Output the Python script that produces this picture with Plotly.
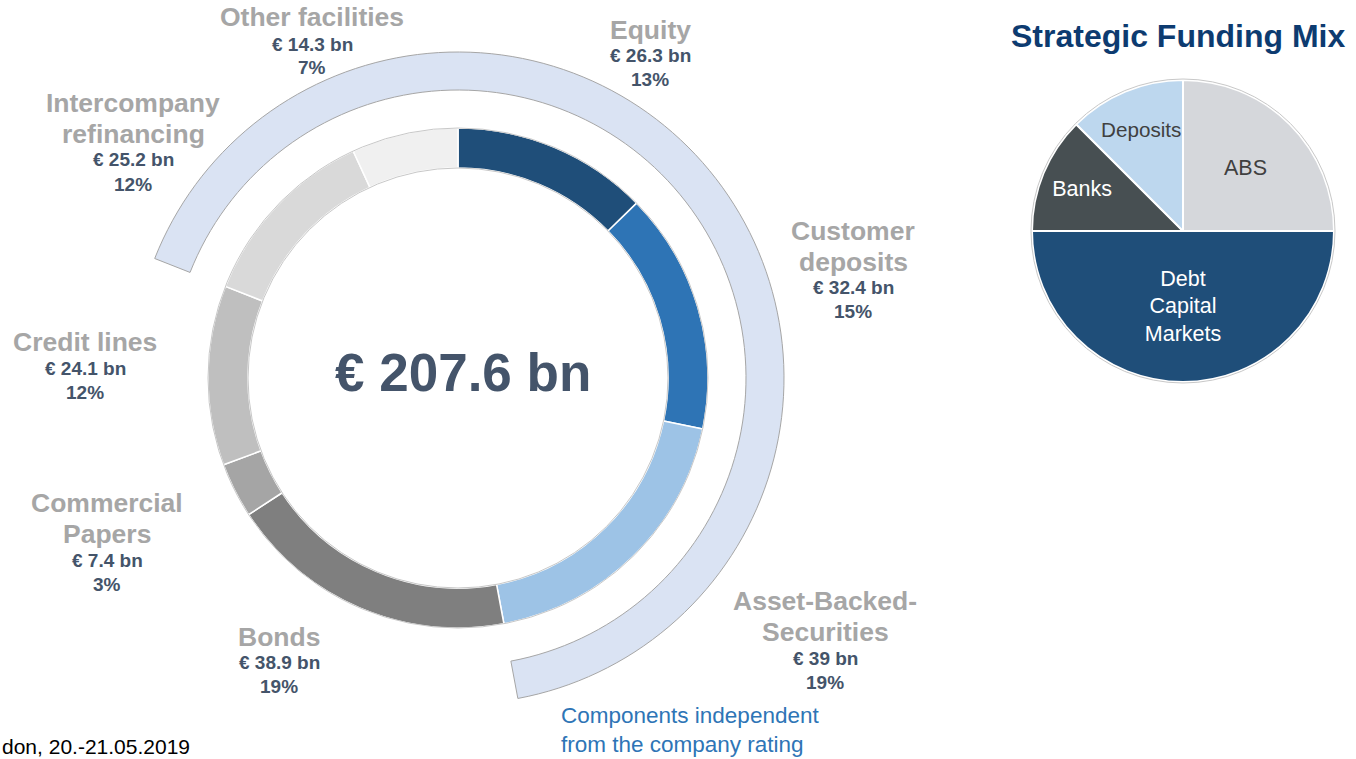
import plotly.graph_objects as go

# ---------------- data ----------------
categories = ["Equity", "Customer deposits", "Asset-Backed-Securities", "Bonds",
              "Commercial Papers", "Credit lines", "Intercompany refinancing", "Other facilities"]
name_lines = ["Equity", "Customer<br>deposits", "Asset-Backed-<br>Securities", "Bonds",
              "Commercial<br>Papers", "Credit lines", "Intercompany<br>refinancing", "Other facilities"]
values_bn = [26.3, 32.4, 39.0, 38.9, 7.4, 24.1, 25.2, 14.3]
pct_labels = ["13%", "15%", "19%", "19%", "3%", "12%", "12%", "7%"]
rating_independent = [True, True, True, False, False, False, True, True]
independent_label = "Components independent<br>from the company rating"

mix_title = "Strategic Funding Mix"
mix_labels = ["ABS", "Debt<br>Capital<br>Markets", "Banks", "Deposits"]
mix_shares = [25, 50, 12.5, 12.5]

footer_text = "don, 20.-21.05.2019"

# ---------------- style ----------------
W, H = 1356, 759
FONT = "Arial, 'Liberation Sans', sans-serif"
ring_colors = ["#1f4e79", "#2e74b5", "#9dc3e6", "#7f7f7f", "#a5a5a5", "#bfbfbf", "#d9d9d9", "#f0f0f0"]
mix_colors = ["#d5d7db", "#1f4e79", "#474f52", "#bdd7ee"]
mix_text_colors = ["#404040", "#ffffff", "#ffffff", "#404040"]
NAME_COLOR = "#a6a6a6"
VAL_COLOR = "#44546a"

# label layout (pixel positions): x center, first name-line y, value y, pct y
label_pos = {
    "Equity": (650, 30, 56, 79),
    "Customer deposits": (853, 231, 287, 311),
    "Asset-Backed-Securities": (825, 601, 658, 682),
    "Bonds": (279, 637, 662, 686),
    "Commercial Papers": (107, 503, 560, 584),
    "Credit lines": (85, 342, 368, 392),
    "Intercompany refinancing": (133, 103, 160, 184),
    "Other facilities": (312, 17, 44, 67),
}


def px(x):
    return x / W


def py(y):
    return 1 - y / H


def dom(cx, cy, r):
    return dict(x=[px(cx - r), px(cx + r)], y=[py(cy + r), py(cy - r)])


total = sum(values_bn)
ind_sum = sum(v for v, f in zip(values_bn, rating_independent) if f)
dep_sum = total - ind_sum
# the independent block wraps around 12 o'clock: start it at the first of the trailing independent items
trail = 0.0
for v, f in zip(reversed(values_bn), reversed(rating_independent)):
    if not f:
        break
    trail += v
arc_rotation = -360.0 * trail / total

CX, CY = 458, 378
fig = go.Figure()

# outer bracket arc
fig.add_trace(go.Pie(
    values=[ind_sum, dep_sum], labels=["independent", "dependent"], sort=False,
    direction="clockwise", rotation=arc_rotation, hole=288 / 326,
    marker=dict(colors=["#dae3f3", "rgba(0,0,0,0)"],
                line=dict(color=["#a6a6a6", "rgba(0,0,0,0)"], width=[1, 0])),
    textinfo="none", hoverinfo="skip", domain=dom(CX, CY, 326), showlegend=False))

# main ring
fig.add_trace(go.Pie(
    values=values_bn, labels=categories, sort=False, direction="clockwise", rotation=0,
    hole=210 / 250,
    marker=dict(colors=ring_colors, line=dict(color="#ffffff", width=1.5)),
    textinfo="none", hovertemplate="%{label}: € %{value} bn<extra></extra>",
    domain=dom(CX, CY, 250), showlegend=False))

# thin grey outline of ring
fig.add_trace(go.Pie(
    values=[total], labels=["total"], sort=False, hole=210 / 250,
    marker=dict(colors=["rgba(0,0,0,0)"], line=dict(color="#c8c8c8", width=1)),
    textinfo="none", hoverinfo="skip", domain=dom(CX, CY, 250), showlegend=False))

# strategic funding mix pie
MX, MY, MR = 1183, 231, 151
fig.add_trace(go.Pie(
    values=mix_shares, labels=mix_labels, sort=False, direction="clockwise", rotation=0,
    marker=dict(colors=mix_colors, line=dict(color="#ffffff", width=2)),
    textinfo="label", textposition="inside", insidetextorientation="horizontal",
    insidetextfont=dict(family=FONT, size=21.5, color=mix_text_colors),
    hoverinfo="label+percent", domain=dom(MX, MY, MR), showlegend=False))
fig.add_trace(go.Pie(
    values=[sum(mix_shares)], labels=["all"], sort=False,
    marker=dict(colors=["rgba(0,0,0,0)"], line=dict(color="#c8c8c8", width=1)),
    textinfo="none", hoverinfo="skip", domain=dom(MX, MY, MR + 1), showlegend=False))

ann = []
for cat, nm, v, pc in zip(categories, name_lines, values_bn, pct_labels):
    x, ny, vy, pcy = label_pos[cat]
    for i, line in enumerate(nm.split("<br>")):
        ann.append(dict(x=px(x), y=py(ny + 31 * i), text=line, showarrow=False,
                        xanchor="center", yanchor="middle",
                        font=dict(family=FONT, size=26.5, color=NAME_COLOR, weight="bold")))
    ann.append(dict(x=px(x), y=py(vy), text=f"€ {v:g} bn", showarrow=False,
                    xanchor="center", yanchor="middle",
                    font=dict(family=FONT, size=19, color=VAL_COLOR, weight="bold")))
    ann.append(dict(x=px(x), y=py(pcy), text=pc, showarrow=False,
                    xanchor="center", yanchor="middle",
                    font=dict(family=FONT, size=19, color=VAL_COLOR, weight="bold")))

# centre total
ann.append(dict(x=px(463), y=py(372), text=f"€ {total:.1f} bn", showarrow=False,
                xanchor="center", yanchor="middle",
                font=dict(family=FONT, size=53, color=VAL_COLOR, weight="bold")))
# independent components note
ann.append(dict(x=px(559), y=py(730), text=independent_label, showarrow=False,
                xanchor="left", yanchor="middle", align="left",
                font=dict(family=FONT, size=22.5, color="#2e75b6")))
# title of funding mix
ann.append(dict(x=px(1178), y=py(36), text=mix_title, showarrow=False,
                xanchor="center", yanchor="middle",
                font=dict(family=FONT, size=32, color="#0d3b70", weight="bold")))
# footer
ann.append(dict(x=px(0), y=py(746), text=footer_text, showarrow=False,
                xanchor="left", yanchor="middle",
                font=dict(family=FONT, size=21, color="#000000")))

fig.update_layout(width=W, height=H, margin=dict(l=0, r=0, t=0, b=0),
                  paper_bgcolor="#ffffff", plot_bgcolor="#ffffff",
                  annotations=ann, font=dict(family=FONT))

fig.write_html("out.html", config={"displayModeBar": False},
               post_script="document.body.style.margin='0';document.body.style.overflow='hidden';")
